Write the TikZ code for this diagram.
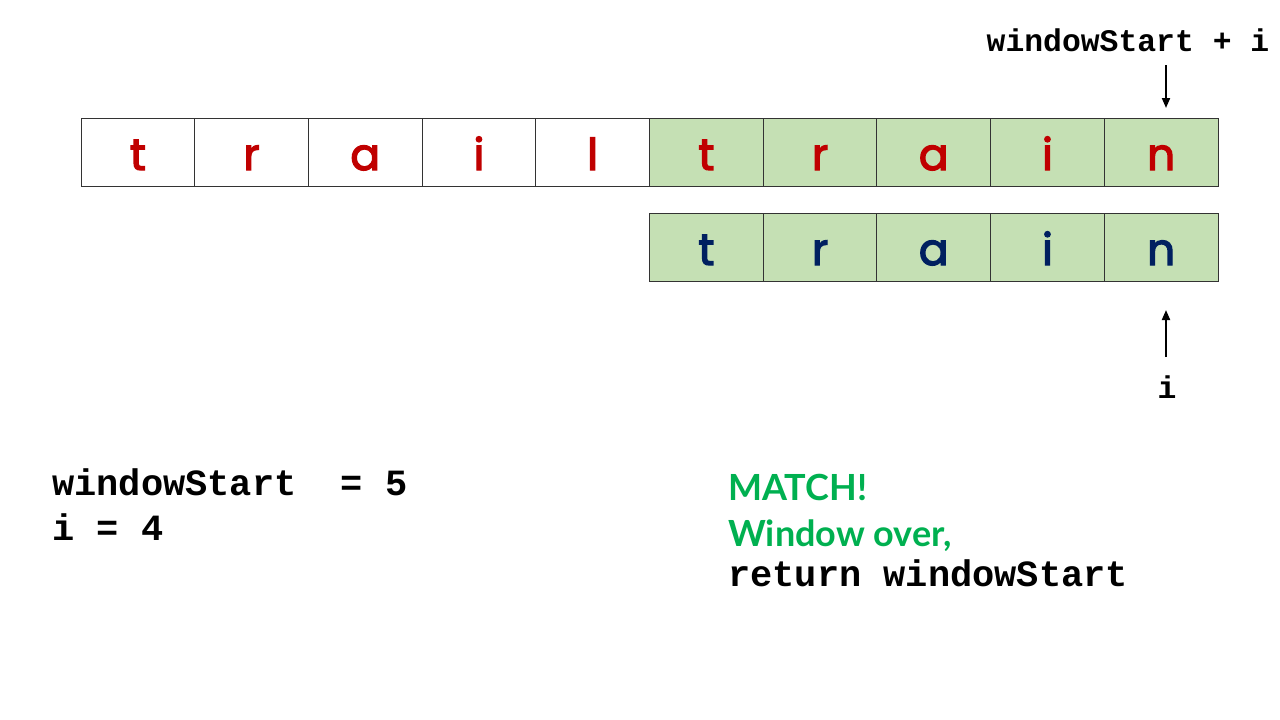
\documentclass[tikz,border=0pt]{standalone}
\usepackage{fontspec}
\usetikzlibrary{arrows.meta}
\usetikzlibrary{positioning}

\newfontfamily\cellfont[FakeBold=3]{Poppins}
\newfontfamily\codefont{Liberation Mono}
\newfontfamily\notefont{Lato}

\definecolor{letterred}{HTML}{C00000}
\definecolor{letternavy}{HTML}{002060}
\definecolor{windowgreen}{HTML}{C5E0B4}
\definecolor{matchgreen}{HTML}{00B050}

\begin{document}
\begin{tikzpicture}[x=1pt,y=-1pt,>={Triangle[length=10pt,width=8pt]},
  cell/.style={draw=black!80,line width=1pt,minimum width=113.7pt,minimum height=68pt,
    inner sep=0pt,outer sep=0pt,text height=36pt,text depth=0pt,
    font=\cellfont\fontsize{44}{44}\selectfont},
  window/.style={fill=windowgreen},
  code/.style={inner sep=0pt,font=\codefont\bfseries\fontsize{37}{43}\selectfont},
  small code/.style={inner sep=0pt,font=\codefont\bfseries\fontsize{31.4}{36}\selectfont},
  note/.style={inner sep=0pt,text=matchgreen,font=\notefont\bfseries\fontsize{36}{43}\selectfont},
  ptr/.style={->,line width=2pt}]

  \useasboundingbox (0,0) rectangle (1280,720);

  % text row: trail + train
  \node[cell,text=letterred] (t1) at (137.85,152) {t};
  \foreach \ch [count=\k from 2] in {r,a,i,l} {
    \pgfmathtruncatemacro\j{\k-1}
    \node[cell,text=letterred,right=0pt of t\j] (t\k) {\ch};
  }
  \foreach \ch [count=\k from 6] in {t,r,a,i,n} {
    \pgfmathtruncatemacro\j{\k-1}
    \node[cell,window,text=letterred,right=0pt of t\j] (t\k) {\ch};
  }

  % pattern row under the window
  \foreach \ch [count=\k from 6] in {t,r,a,i,n} {
    \node[cell,window,text=letternavy,below=27pt of t\k] (b\k) {\ch};
  }

  % pointers
  \node[small code,anchor=base] (wsi) at (1128,51) {windowStart + i};
  \coordinate (wsiTail) at (1166,65);
  \draw[ptr,shorten >=10pt] (wsiTail) -- (wsiTail |- t10.north);

  \node[small code,anchor=base] (ilabel) at (1167,398) {i};
  \coordinate (iTail) at (1166,357);
  \draw[ptr,shorten >=29pt] (iTail) -- (iTail |- b10.south);

  % state
  \node[code,anchor=base west] (ws) at (52,495) {windowStart\ \ = 5};
  \node[code,anchor=base west] (iv) at (52,540) {i = 4};

  \node[note,anchor=base west] (match) at (728,500) {MATCH!};
  \node[note,anchor=base west] (over) at (728,546) {Window over,};
  \node[code,anchor=base west] (ret) at (728,586) {return windowStart};
\end{tikzpicture}
\end{document}
